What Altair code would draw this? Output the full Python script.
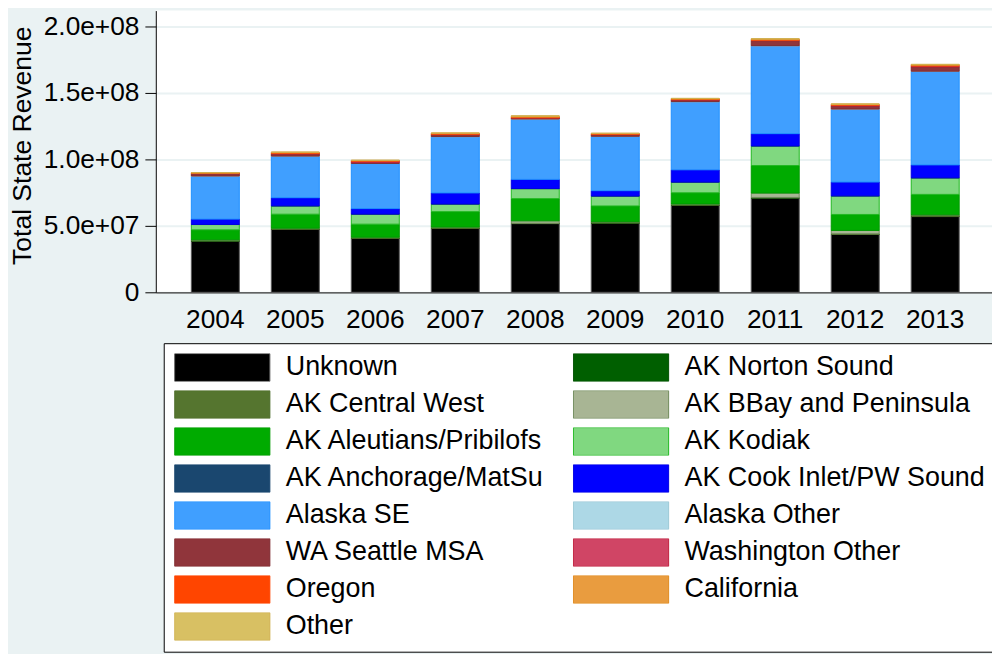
import altair as alt
import pandas as pd

years = ["2004", "2005", "2006", "2007", "2008", "2009", "2010", "2011", "2012", "2013"]

categories = [
    "Unknown", "AK Norton Sound", "AK Central West", "AK BBay and Peninsula",
    "AK Aleutians/Pribilofs", "AK Kodiak", "AK Anchorage/MatSu", "AK Cook Inlet/PW Sound",
    "Alaska SE", "Alaska Other", "WA Seattle MSA", "Washington Other",
    "Oregon", "California", "Other",
]

fill_colors = [
    "#000000", "#005F00", "#55752F", "#A8B594",
    "#00AB00", "#80D880", "#1A476F", "#0000FF",
    "#409FFF", "#ADD8E6", "#90353B", "#D04565",
    "#FF4500", "#E99C3F", "#D8C063",
]
stroke_colors = [
    "#5A5A5A", "#005000", "#4B6B28", "#6E8A5A",
    "#009A00", "#20B820", "#1A476F", "#0000E0",
    "#1E90FF", "#9CC8D6", "#7E2A30", "#C0203F",
    "#FF4500", "#E08A1E", "#D0B050",
]

# values in millions of dollars, one list per region (2004..2013)
unknown          = [38.5, 47.3, 40.5, 48.0, 51.7, 52.0, 65.4, 70.9, 43.5, 57.0]
ak_norton        = [0.1, 0.1, 0.1, 0.1, 0.1, 0.1, 0.1, 0.1, 0.1, 0.1]
ak_central_west  = [0.7, 0.7, 0.7, 0.8, 0.2, 0.8, 0.8, 0.4, 0.4, 1.0]
ak_bbay          = [0.2, 0.2, 0.2, 0.2, 1.8, 0.2, 0.2, 3.3, 2.6, 0.2]
ak_aleutians     = [7.5, 10.5, 9.8, 11.6, 16.7, 11.9, 8.4, 20.7, 12.0, 15.4]
ak_kodiak        = [4.0, 6.2, 7.5, 5.7, 7.5, 7.4, 8.0, 14.7, 13.9, 12.4]
ak_anchorage     = [0.1, 0.1, 0.1, 0.1, 0.1, 0.1, 0.1, 0.1, 0.1, 0.1]
ak_cook_inlet    = [4.0, 6.1, 4.1, 8.3, 6.9, 4.0, 9.2, 9.2, 10.4, 9.7]
alaska_se        = [32.3, 31.2, 33.9, 42.3, 45.3, 40.8, 51.2, 66.1, 54.8, 70.4]
alaska_other     = [0.1, 0.1, 0.1, 0.1, 0.1, 0.1, 0.1, 0.1, 0.1, 0.1]
wa_seattle       = [1.8, 1.7, 0.8, 1.5, 0.8, 1.3, 1.3, 3.8, 2.3, 3.3]
washington_other = [0.2, 0.2, 0.9, 0.2, 0.2, 0.2, 0.2, 0.3, 0.6, 0.6]
oregon           = [0.3, 0.6, 0.3, 0.5, 0.5, 0.4, 0.4, 0.4, 0.4, 0.6]
california       = [0.2, 0.4, 0.3, 0.4, 0.6, 0.3, 0.4, 0.5, 0.4, 0.4]
other            = [0.1, 0.1, 0.1, 0.1, 0.4, 0.1, 0.2, 0.3, 0.2, 0.3]

series = [
    unknown, ak_norton, ak_central_west, ak_bbay, ak_aleutians, ak_kodiak,
    ak_anchorage, ak_cook_inlet, alaska_se, alaska_other, wa_seattle,
    washington_other, oregon, california, other,
]

rows = []
for idx, (cat, vals) in enumerate(zip(categories, series)):
    for yr, v in zip(years, vals):
        rows.append({"year": yr, "region": cat, "idx": idx, "value": v * 1e6})
df = pd.DataFrame(rows)

FONT = "Liberation Sans"
rect_path = "M-1,-0.2917L1,-0.2917L1,0.2917L-1,0.2917Z"


def make_legend():
    return alt.Legend(
        orient="none", legendX=8, legendY=335.3, columns=2, direction="horizontal",
        symbolType=rect_path, symbolSize=9216, symbolStrokeWidth=1,
        clipHeight=28, rowPadding=9.3, columnPadding=28,
        labelOffset=15.5, labelFontSize=27.1, labelFont=FONT,
        labelColor="#000000", labelLimit=600, padding=10.5,
        strokeColor="#000000", fillColor="#FFFFFF", symbolOpacity=1,
    )


chart = alt.Chart(df).mark_bar(strokeWidth=1).encode(
    x=alt.X(
        "year:N",
        title=None,
        sort=years,
        scale=alt.Scale(paddingInner=0.4, paddingOuter=0.4272, align=0.52),
        axis=alt.Axis(
            labelAngle=0, ticks=False, tickSize=0, labelPadding=14,
            labelFontSize=26.5, labelFont=FONT, labelColor="#000000",
            domainColor="#333333", domainWidth=1.2, grid=False,
        ),
    ),
    y=alt.Y(
        "value:Q",
        stack="zero",
        title="Total State Revenue",
        scale=alt.Scale(domain=[0, 2.12e8], nice=False, zero=True),
        axis=alt.Axis(
            values=[0, 5e7, 1e8, 1.5e8, 2e8],
            labelExpr="datum.value == 0 ? '0' : replace(format(datum.value, '.1e'), 'e+', 'e+0')",
            labelFontSize=26.5, labelFont=FONT, labelColor="#000000",
            labelPadding=6, tickSize=11, tickColor="#000000", tickWidth=1,
            domainColor="#000000", domainWidth=1,
            grid=True, gridColor="#EAF2F3", gridWidth=2,
            titleFontSize=26.7, titleFont=FONT, titleFontWeight="normal",
            titleColor="#000000", titleAngle=270, titleX=-126.5, titleY=135.7,
            titleAlign="center", titleBaseline="alphabetic",
        ),
    ),
    fill=alt.Fill(
        "region:N",
        title=None,
        scale=alt.Scale(domain=categories, range=fill_colors),
        legend=make_legend(),
    ),
    stroke=alt.Stroke(
        "region:N",
        title=None,
        scale=alt.Scale(domain=categories, range=stroke_colors),
        legend=make_legend(),
    ),
    order=alt.Order("idx:Q", sort="ascending"),
).properties(
    width=843,
    height=284,
    autosize=alt.AutoSizeParams(type="none"),
    padding={"left": 149, "top": 0, "right": 0, "bottom": 362},
    background="#EAF2F3",
).configure_view(
    fill="#FFFFFF", strokeWidth=0,
)

chart.save("out.html", embed_options={"renderer": "svg", "actions": False})
